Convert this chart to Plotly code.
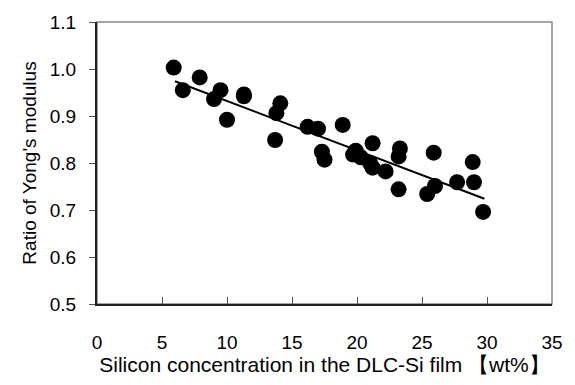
import plotly.graph_objects as go

si_wt = [5.9, 6.6, 7.9, 9.0, 9.5, 10.0, 11.3, 11.3, 13.7, 13.8, 14.1, 16.2, 17.0, 17.3, 17.5,
         18.9, 19.7, 19.9, 20.3, 21.2, 21.0, 21.2, 22.2, 23.3, 23.2, 23.2, 25.9, 26.0, 25.4,
         27.7, 28.9, 29.0, 29.7]
ratio = [1.003, 0.955, 0.982, 0.936, 0.955, 0.892, 0.946, 0.942, 0.849, 0.906, 0.927, 0.877,
         0.873, 0.824, 0.807, 0.881, 0.818, 0.826, 0.812, 0.842, 0.800, 0.790, 0.782, 0.831,
         0.814, 0.744, 0.822, 0.751, 0.734, 0.759, 0.802, 0.759, 0.696]
trend_x = [6.0, 29.8]
trend_y = [0.974, 0.724]
x_ticks = [0, 5, 10, 15, 20, 25, 30, 35]
y_ticks = [0.5, 0.6, 0.7, 0.8, 0.9, 1.0, 1.1]

FONT = "Liberation Sans, Arial, sans-serif"

fig = go.Figure()
fig.add_trace(go.Scatter(x=si_wt, y=ratio, mode="markers",
                         marker=dict(color="black", size=16, line=dict(width=0))))
fig.add_trace(go.Scatter(x=trend_x, y=trend_y, mode="lines",
                         line=dict(color="black", width=2)))

fig.update_layout(
    width=575, height=385,
    margin=dict(l=97, r=13, t=19, b=81),
    paper_bgcolor="white", plot_bgcolor="white",
    showlegend=False,
    font=dict(family=FONT, size=19, color="black"),
    shapes=[dict(type="rect", xref="paper", yref="paper", x0=0, y0=0, x1=1, y1=1,
                 line=dict(color="#888888", width=1.5), layer="below")],
)
fig.update_xaxes(range=[0, 35], tickvals=x_ticks, ticktext=[str(v) for v in x_ticks],
                 showgrid=False, zeroline=False, showline=True, linecolor="#222222", linewidth=2,
                 ticks="inside", ticklen=7, tickcolor="#555555", tickwidth=1,
                 ticklabelstandoff=20,
                 tickfont=dict(size=19, family=FONT),
                 title=dict(text="Silicon concentration in the DLC-Si film 【wt%】",
                            font=dict(size=21, family=FONT), standoff=5))
fig.update_yaxes(range=[0.5, 1.1], tickvals=y_ticks, ticktext=[f"{v:.1f}" for v in y_ticks],
                 showgrid=False, zeroline=False, showline=True, linecolor="#222222", linewidth=2,
                 ticks="outside", ticklen=6, tickcolor="#555555", tickwidth=1,
                 ticklabelstandoff=9,
                 tickfont=dict(size=19, family=FONT),
                 title=dict(text="Ratio of Yong's modulus", font=dict(size=19, family=FONT), standoff=8))

fig.write_html("out.html")
